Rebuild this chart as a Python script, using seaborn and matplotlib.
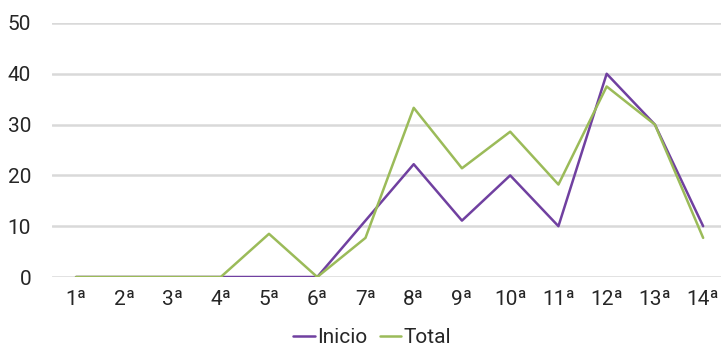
import numpy as np
import pandas as pd
import matplotlib
matplotlib.use("Agg")
import matplotlib.pyplot as plt
import seaborn as sns

sns.set_theme(style="white")
plt.rcParams['font.family'] = ['Roboto', 'DejaVu Sans']

# data
rounds = ["1ª", "2ª", "3ª", "4ª", "5ª", "6ª", "7ª", "8ª", "9ª", "10ª", "11ª", "12ª", "13ª", "14ª"]
inicio = [0, 0, 0, 0, 0, 0, 11.1, 22.2, 11.1, 20.0, 10.0, 40.0, 30.0, 10.0]
total = [0, 0, 0, 0, 8.5, 0, 7.7, 33.3, 21.4, 28.6, 18.2, 37.5, 30.0, 7.7]

df = pd.DataFrame({
    "pos": list(range(len(rounds))) * 2,
    "valor": inicio + total,
    "serie": ["Inicio"] * len(rounds) + ["Total"] * len(rounds),
})

fig = plt.figure(figsize=(7.21, 3.48), dpi=100)
ax = fig.add_axes([0.072, 0.204, 0.928, 0.73])

sns.lineplot(data=df, x="pos", y="valor", hue="serie",
             palette={"Inicio": "#7040a0", "Total": "#9bbb59"},
             linewidth=1.8, ax=ax, legend=False, zorder=3)

ax.set_ylim(0, 50)
ax.set_xlim(-0.5, 13.37)
ax.set_yticks(range(0, 51, 10))
ax.set_xticks(range(len(rounds)))
ax.set_xticklabels(rounds)
ax.yaxis.grid(True, color="#d9d9d9", linewidth=1.8)
ax.xaxis.grid(False)
for s in ax.spines.values():
    s.set_visible(False)
ax.tick_params(axis="both", length=0, labelsize=15, colors="#262626")
ax.tick_params(axis="y", pad=15)
ax.tick_params(axis="x", pad=9)
ax.set_xlabel("")
ax.set_ylabel("")

h1, = ax.plot([], [], color="#7040a0", linewidth=1.8)
h2, = ax.plot([], [], color="#9bbb59", linewidth=1.8)
fig.legend([h1, h2], ["Inicio", "Total"], loc="center", bbox_to_anchor=(0.516, 0.03),
           ncol=2, frameon=False, fontsize=15, handlelength=1.05, handletextpad=0.1,
           columnspacing=0.6, labelcolor="#262626")

fig.savefig("out.png", dpi=100)
